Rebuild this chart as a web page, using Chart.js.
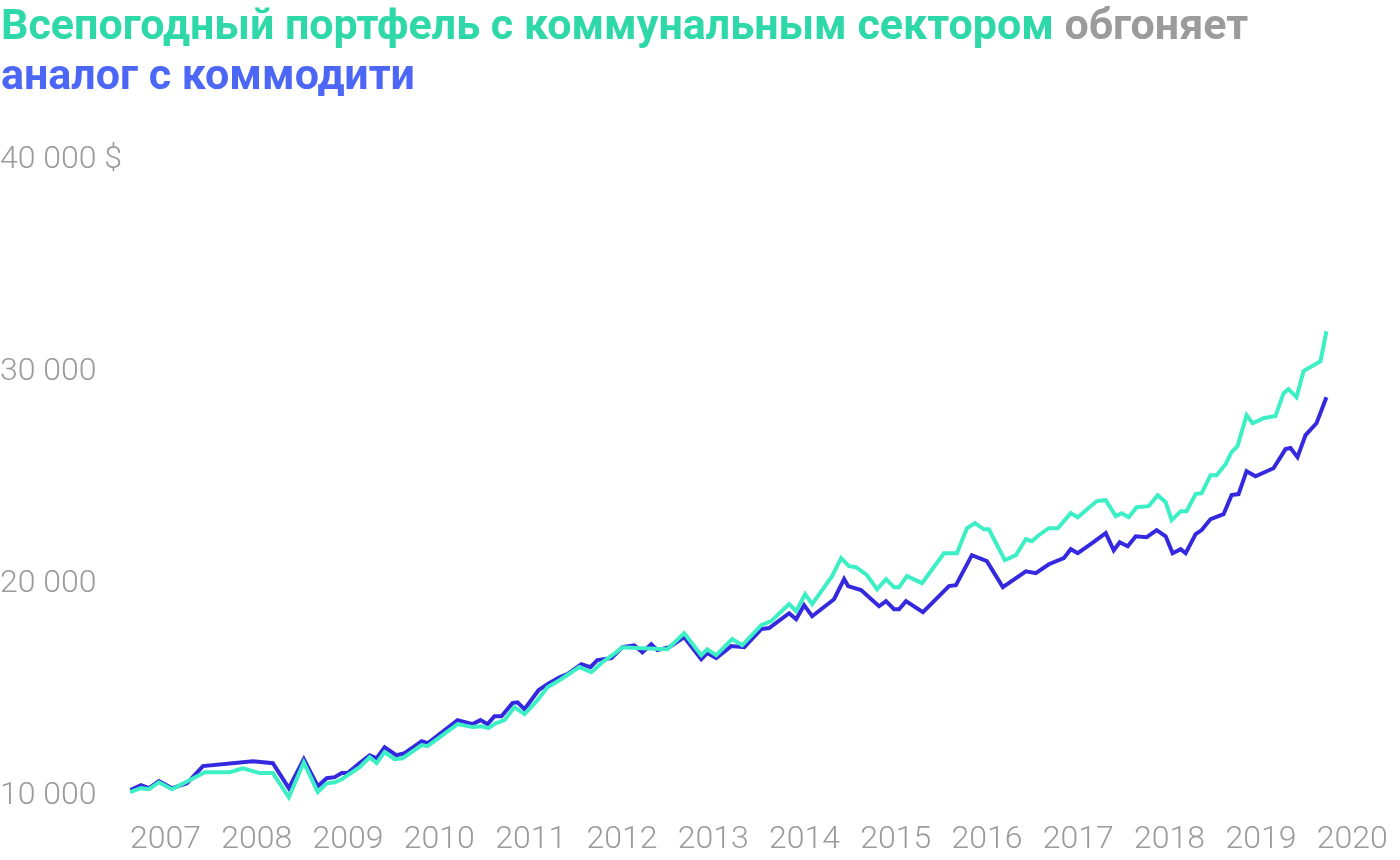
<!DOCTYPE html>
<html lang="ru">
<head>
<meta charset="utf-8">
<title>Всепогодный портфель</title>
<script src="https://cdn.jsdelivr.net/npm/chart.js@4"></script>
<style>
  html, body { margin: 0; padding: 0; background: #fff; }
  canvas { display: block; }
</style>
</head>
<body>
<canvas id="portfolioChart" width="1400" height="860"></canvas>
<script>
// Заголовок: куски текста и их цвета
const titleLine1 = [
  ['Всепогодный портфель с коммунальным сектором ', '#2ed8a8'],
  ['обгоняет', '#9b9b9b']
];
const titleLine2 = [
  ['аналог с коммодити', '#4c66f6']
];

// Деления осей
const yearTicks = [2007, 2008, 2009, 2010, 2011, 2012, 2013, 2014, 2015, 2016, 2017, 2018, 2019, 2020];
const valueTicks = [10000, 20000, 30000, 40000];

// Портфель с коммунальным сектором (дата как доля года, стоимость в $)
const utilDates = [
  2007.000, 2007.120, 2007.208, 2007.317, 2007.460, 2007.821, 2008.094, 2008.236, 2008.422, 2008.565,
  2008.740, 2008.904, 2009.057, 2009.155, 2009.243, 2009.319, 2009.516, 2009.626, 2009.702, 2009.790,
  2009.899, 2009.987, 2010.195, 2010.260, 2010.589, 2010.753, 2010.851, 2010.928, 2011.004, 2011.103,
  2011.212, 2011.322, 2011.464, 2011.573, 2011.705, 2011.923, 2012.055, 2012.175, 2012.284, 2012.394,
  2012.613, 2012.886, 2013.072, 2013.258, 2013.324, 2013.422, 2013.597, 2013.707, 2013.915, 2014.024,
  2014.221, 2014.298, 2014.396, 2014.473, 2014.691, 2014.790, 2014.877, 2014.954, 2015.074, 2015.184,
  2015.282, 2015.370, 2015.425, 2015.512, 2015.676, 2015.917, 2016.059, 2016.168, 2016.256, 2016.354,
  2016.409, 2016.584, 2016.705, 2016.814, 2016.880, 2016.956, 2017.066, 2017.164, 2017.306, 2017.383,
  2017.591, 2017.689, 2017.799, 2017.864, 2017.941, 2018.028, 2018.160, 2018.258, 2018.346, 2018.411,
  2018.510, 2018.575, 2018.674, 2018.740, 2018.838, 2018.904, 2019.002, 2019.068, 2019.133, 2019.232,
  2019.298, 2019.418, 2019.549, 2019.637, 2019.691, 2019.779, 2019.856, 2020.042, 2020.107
];
const utilValues = [
  10190, 10380, 10330, 10660, 10330, 11130, 11130, 11320, 11090, 11090,
  9950, 11600, 10190, 10610, 10660, 10800, 11370, 11840, 11560, 12080,
  11750, 11790, 12410, 12360, 13400, 13260, 13300, 13210, 13440, 13590,
  14200, 13870, 14530, 15140, 15470, 16090, 15850, 16320, 16650, 17030,
  16980, 16930, 17690, 16650, 16930, 16650, 17410, 17120, 18070, 18260,
  19060, 18730, 19530, 19060, 20380, 21230, 20850, 20800, 20430, 19760,
  20240, 19860, 19860, 20380, 20050, 21460, 21460, 22640, 22880, 22590,
  22590, 21130, 21370, 22120, 22030, 22310, 22640, 22640, 23350, 23160,
  23920, 23960, 23210, 23350, 23160, 23630, 23680, 24200, 23870, 23020,
  23440, 23440, 24250, 24290, 25140, 25140, 25660, 26230, 26510, 27970,
  27590, 27830, 27930, 29010, 29200, 28820, 30050, 30520, 31930
];

// Портфель с коммодити
const commDates = [
  2007.000, 2007.120, 2007.208, 2007.317, 2007.460, 2007.624, 2007.799, 2008.346, 2008.565, 2008.740,
  2008.904, 2009.057, 2009.155, 2009.243, 2009.319, 2009.385, 2009.516, 2009.626, 2009.702, 2009.790,
  2009.921, 2010.009, 2010.195, 2010.260, 2010.589, 2010.753, 2010.840, 2010.917, 2010.993, 2011.070,
  2011.190, 2011.245, 2011.322, 2011.475, 2011.573, 2011.705, 2011.792, 2011.945, 2012.044, 2012.120,
  2012.274, 2012.394, 2012.525, 2012.613, 2012.711, 2012.777, 2012.908, 2013.072, 2013.258, 2013.324,
  2013.422, 2013.586, 2013.729, 2013.915, 2014.002, 2014.221, 2014.298, 2014.385, 2014.473, 2014.713,
  2014.823, 2014.867, 2015.009, 2015.206, 2015.282, 2015.370, 2015.425, 2015.501, 2015.687, 2015.972,
  2016.048, 2016.223, 2016.387, 2016.562, 2016.814, 2016.923, 2017.066, 2017.230, 2017.306, 2017.383,
  2017.536, 2017.689, 2017.777, 2017.842, 2017.930, 2018.018, 2018.138, 2018.247, 2018.346, 2018.422,
  2018.510, 2018.565, 2018.674, 2018.740, 2018.838, 2018.980, 2019.068, 2019.144, 2019.232, 2019.330,
  2019.527, 2019.659, 2019.713, 2019.790, 2019.878, 2019.998, 2020.107
];
const commValues = [
  10280, 10520, 10380, 10710, 10380, 10610, 11420, 11650, 11560, 10380,
  11750, 10470, 10850, 10900, 11090, 11090, 11560, 11930, 11790, 12310,
  11930, 12030, 12590, 12500, 13590, 13400, 13590, 13400, 13770, 13770,
  14390, 14430, 14100, 15000, 15280, 15610, 15760, 16230, 16090, 16420,
  16510, 17030, 17120, 16790, 17170, 16890, 17030, 17500, 16460, 16750,
  16510, 17080, 17030, 17880, 17930, 18630, 18350, 19010, 18490, 19290,
  20240, 19910, 19720, 18960, 19200, 18820, 18820, 19200, 18680, 19910,
  19950, 21370, 21090, 19860, 20610, 20520, 20940, 21230, 21650, 21460,
  21930, 22410, 21600, 21980, 21790, 22260, 22220, 22550, 22260, 21460,
  21650, 21460, 22360, 22550, 23070, 23300, 24200, 24250, 25330, 25090,
  25470, 26370, 26420, 25990, 27030, 27590, 28820
];

const toPoints = (dates, values) => dates.map((d, i) => ({ x: d, y: values[i] }));

const fmtValue = v => (v / 1000) + ' 000' + (v === 40000 ? ' $' : '');

// Плагин для двухцветного заголовка
const titlePlugin = {
  id: 'twoColourTitle',
  beforeDraw(chart) {
    const ctx = chart.ctx;
    ctx.save();
    ctx.font = 'bold 43px Roboto';
    ctx.textBaseline = 'alphabetic';
    ctx.textAlign = 'left';
    [[titleLine1, 39], [titleLine2, 89]].forEach(([parts, y]) => {
      let x = 1;
      parts.forEach(([text, colour]) => {
        ctx.fillStyle = colour;
        ctx.fillText(text, x, y);
        x += ctx.measureText(text).width;
      });
    });
    ctx.restore();
  }
};

const tickFont = { family: 'Roboto', size: 32, weight: '300' };

new Chart(document.getElementById('portfolioChart'), {
  type: 'line',
  data: {
    datasets: [
      {
        label: 'С коммунальным сектором',
        data: toPoints(utilDates, utilValues),
        borderColor: '#3cefc5',
        borderWidth: 4,
        pointRadius: 0,
        tension: 0
      },
      {
        label: 'С коммодити',
        data: toPoints(commDates, commValues),
        borderColor: '#3529e0',
        borderWidth: 4,
        pointRadius: 0,
        tension: 0
      }
    ]
  },
  options: {
    responsive: false,
    animation: false,
    devicePixelRatio: 1,
    layout: { padding: { top: 140, right: 36, bottom: 0, left: 0 } },
    plugins: {
      legend: { display: false },
      tooltip: { enabled: false }
    },
    scales: {
      x: {
        type: 'linear',
        min: 2007,
        max: 2020.5,
        grid: { display: false, drawTicks: false },
        border: { display: false },
        afterBuildTicks: s => { s.ticks = yearTicks.map(v => ({ value: v })); },
        afterFit: s => { s.height = 50; },
        ticks: {
          align: 'start',
          padding: 11,
          color: '#9b9b9b',
          font: tickFont,
          maxRotation: 0,
          autoSkip: false,
          callback: v => String(v)
        }
      },
      y: {
        min: 9350,
        max: 40950,
        grid: { display: false, drawTicks: false },
        border: { display: false },
        afterBuildTicks: s => { s.ticks = valueTicks.map(v => ({ value: v })); },
        afterFit: s => { s.width = 130; },
        ticks: {
          crossAlign: 'far',
          color: '#9b9b9b',
          font: tickFont,
          callback: v => fmtValue(v)
        }
      }
    }
  },
  plugins: [titlePlugin]
});
</script>
</body>
</html>
